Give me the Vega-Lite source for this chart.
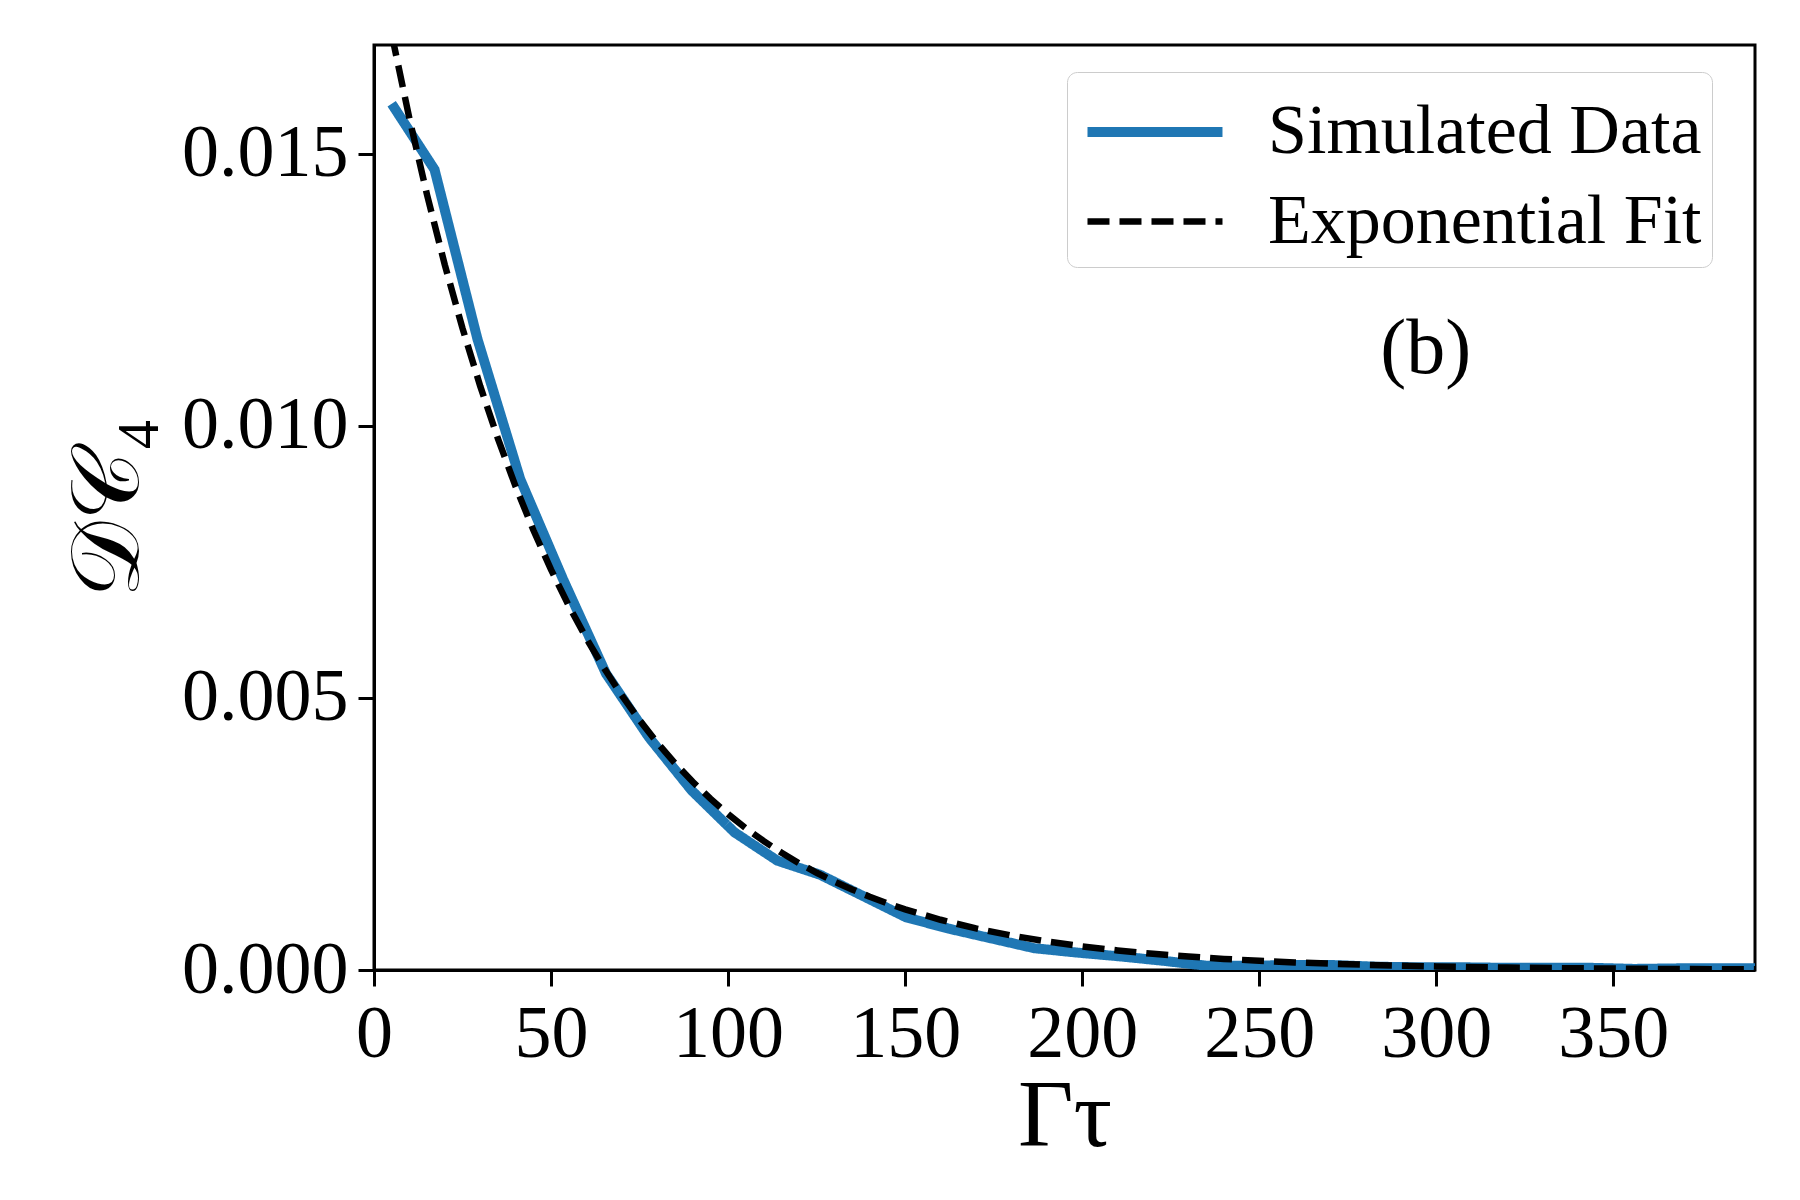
{
  "$schema": "https://vega.github.io/schema/vega-lite/v6.json",
  "description": "Decay of D_C4 against Gamma tau, simulated data with exponential fit",
  "width": 1381,
  "height": 925,
  "autosize": {"type": "none"},
  "padding": {"left": 374, "top": 45, "right": 45, "bottom": 230},
  "background": "white",
  "config": {
    "view": {"stroke": "black", "strokeWidth": 3},
    "font": "Liberation Serif",
    "axis": {
      "labelFont": "Liberation Serif",
      "titleFont": "Liberation Serif",
      "labelFontSize": 74,
      "labelColor": "black",
      "titleColor": "black",
      "domainColor": "black",
      "domainWidth": 3,
      "tickColor": "black",
      "tickWidth": 3,
      "tickSize": 16,
      "grid": false
    }
  },
  "datasets": {
    "sim": [
      {"t": 5.0, "d": 0.01592, "series": "Simulated Data"},
      {"t": 17.1, "d": 0.01471, "series": "Simulated Data"},
      {"t": 29.2, "d": 0.0116, "series": "Simulated Data"},
      {"t": 41.3, "d": 0.00902, "series": "Simulated Data"},
      {"t": 53.4, "d": 0.00718, "series": "Simulated Data"},
      {"t": 65.5, "d": 0.00545, "series": "Simulated Data"},
      {"t": 77.6, "d": 0.00428, "series": "Simulated Data"},
      {"t": 89.7, "d": 0.0033, "series": "Simulated Data"},
      {"t": 101.8, "d": 0.00253, "series": "Simulated Data"},
      {"t": 113.9, "d": 0.00201, "series": "Simulated Data"},
      {"t": 126.0, "d": 0.00175, "series": "Simulated Data"},
      {"t": 138.1, "d": 0.00136, "series": "Simulated Data"},
      {"t": 150.2, "d": 0.00097, "series": "Simulated Data"},
      {"t": 162.3, "d": 0.00076, "series": "Simulated Data"},
      {"t": 174.4, "d": 0.00058, "series": "Simulated Data"},
      {"t": 186.5, "d": 0.0004, "series": "Simulated Data"},
      {"t": 198.6, "d": 0.00032, "series": "Simulated Data"},
      {"t": 210.7, "d": 0.00025, "series": "Simulated Data"},
      {"t": 222.8, "d": 0.00017, "series": "Simulated Data"},
      {"t": 234.9, "d": 0.00008, "series": "Simulated Data"},
      {"t": 247.0, "d": 0.00008, "series": "Simulated Data"},
      {"t": 259.1, "d": 0.00009, "series": "Simulated Data"},
      {"t": 271.2, "d": 0.00009, "series": "Simulated Data"},
      {"t": 283.3, "d": 0.00006, "series": "Simulated Data"},
      {"t": 295.4, "d": 0.00005, "series": "Simulated Data"},
      {"t": 307.5, "d": 0.00005, "series": "Simulated Data"},
      {"t": 319.6, "d": 0.00004, "series": "Simulated Data"},
      {"t": 331.7, "d": 0.00004, "series": "Simulated Data"},
      {"t": 343.8, "d": 0.00004, "series": "Simulated Data"},
      {"t": 355.9, "d": 0.00002, "series": "Simulated Data"},
      {"t": 368.0, "d": 0.00003, "series": "Simulated Data"},
      {"t": 380.1, "d": 0.00003, "series": "Simulated Data"},
      {"t": 392.2, "d": 0.00003, "series": "Simulated Data"}
    ],
    "fit": [
      {"t": 5, "d": 0.017198, "series": "Exponential Fit"},
      {"t": 10, "d": 0.01565, "series": "Exponential Fit"},
      {"t": 15, "d": 0.014241, "series": "Exponential Fit"},
      {"t": 20, "d": 0.012959, "series": "Exponential Fit"},
      {"t": 25, "d": 0.011792, "series": "Exponential Fit"},
      {"t": 30, "d": 0.01073, "series": "Exponential Fit"},
      {"t": 35, "d": 0.009764, "series": "Exponential Fit"},
      {"t": 40, "d": 0.008885, "series": "Exponential Fit"},
      {"t": 45, "d": 0.008085, "series": "Exponential Fit"},
      {"t": 50, "d": 0.007357, "series": "Exponential Fit"},
      {"t": 55, "d": 0.006695, "series": "Exponential Fit"},
      {"t": 60, "d": 0.006092, "series": "Exponential Fit"},
      {"t": 65, "d": 0.005544, "series": "Exponential Fit"},
      {"t": 70, "d": 0.005045, "series": "Exponential Fit"},
      {"t": 75, "d": 0.004591, "series": "Exponential Fit"},
      {"t": 80, "d": 0.004177, "series": "Exponential Fit"},
      {"t": 85, "d": 0.003801, "series": "Exponential Fit"},
      {"t": 90, "d": 0.003459, "series": "Exponential Fit"},
      {"t": 95, "d": 0.003148, "series": "Exponential Fit"},
      {"t": 100, "d": 0.002864, "series": "Exponential Fit"},
      {"t": 105, "d": 0.002606, "series": "Exponential Fit"},
      {"t": 110, "d": 0.002372, "series": "Exponential Fit"},
      {"t": 115, "d": 0.002158, "series": "Exponential Fit"},
      {"t": 120, "d": 0.001964, "series": "Exponential Fit"},
      {"t": 125, "d": 0.001787, "series": "Exponential Fit"},
      {"t": 130, "d": 0.001626, "series": "Exponential Fit"},
      {"t": 135, "d": 0.00148, "series": "Exponential Fit"},
      {"t": 140, "d": 0.001347, "series": "Exponential Fit"},
      {"t": 145, "d": 0.001225, "series": "Exponential Fit"},
      {"t": 150, "d": 0.001115, "series": "Exponential Fit"},
      {"t": 160, "d": 0.000923, "series": "Exponential Fit"},
      {"t": 170, "d": 0.000764, "series": "Exponential Fit"},
      {"t": 180, "d": 0.000633, "series": "Exponential Fit"},
      {"t": 190, "d": 0.000524, "series": "Exponential Fit"},
      {"t": 200, "d": 0.000434, "series": "Exponential Fit"},
      {"t": 210, "d": 0.000359, "series": "Exponential Fit"},
      {"t": 220, "d": 0.000297, "series": "Exponential Fit"},
      {"t": 230, "d": 0.000246, "series": "Exponential Fit"},
      {"t": 240, "d": 0.000204, "series": "Exponential Fit"},
      {"t": 250, "d": 0.000169, "series": "Exponential Fit"},
      {"t": 260, "d": 0.00014, "series": "Exponential Fit"},
      {"t": 270, "d": 0.000116, "series": "Exponential Fit"},
      {"t": 280, "d": 0.000096, "series": "Exponential Fit"},
      {"t": 290, "d": 0.000079, "series": "Exponential Fit"},
      {"t": 300, "d": 0.000066, "series": "Exponential Fit"},
      {"t": 320, "d": 0.000045, "series": "Exponential Fit"},
      {"t": 340, "d": 0.000031, "series": "Exponential Fit"},
      {"t": 360, "d": 0.000021, "series": "Exponential Fit"},
      {"t": 390, "d": 0.000012, "series": "Exponential Fit"}
    ],
    "panel": [
      {"t": 297, "d": 0.0114, "label": "(b)"}
    ]
  },
  "encoding": {
    "x": {
      "field": "t",
      "type": "quantitative",
      "scale": {"domain": [0, 390], "nice": false, "zero": false},
      "axis": {
        "title": "Γτ",
        "titleFontSize": 96,
        "titleFontWeight": "normal",
        "titlePadding": -2,
        "values": [0, 50, 100, 150, 200, 250, 300, 350],
        "labelPadding": 12,
        "labelFlush": false
      }
    },
    "y": {
      "field": "d",
      "type": "quantitative",
      "scale": {"domain": [0, 0.017], "nice": false},
      "axis": {
        "title": "𝒟𝒞₄",
        "titleFontSize": 96,
        "titleFontWeight": "normal",
        "titlePadding": 24,
        "values": [0, 0.005, 0.01, 0.015],
        "format": ".3f",
        "labelPadding": 10,
        "labelFlush": false
      }
    }
  },
  "layer": [
    {
      "data": {"name": "sim"},
      "mark": {"type": "line", "clip": true, "strokeCap": "butt", "strokeJoin": "miter"},
      "encoding": {
        "color": {
          "field": "series",
          "type": "nominal",
          "scale": {"domain": ["Simulated Data", "Exponential Fit"], "range": ["#1f77b4", "black"]},
          "legend": {
            "title": null,
            "orient": "none",
            "legendX": 693,
            "legendY": 27,
            "symbolType": "M-0.878,0L2.122,0",
            "symbolSize": 8100,
            "symbolFillColor": "transparent",
            "labelFont": "Liberation Serif",
            "labelFontSize": 70,
            "labelColor": "black",
            "labelLimit": 800,
            "labelOffset": 91,
            "padding": 10,
            "rowPadding": 6,
            "strokeColor": "#cccccc",
            "fillColor": "white",
            "cornerRadius": 10
          }
        },
        "strokeDash": {
          "field": "series",
          "type": "nominal",
          "scale": {"domain": ["Simulated Data", "Exponential Fit"], "range": [[1, 0], [22, 10]]},
          "legend": null
        },
        "strokeWidth": {
          "field": "series",
          "type": "nominal",
          "scale": {"domain": ["Simulated Data", "Exponential Fit"], "range": [10, 6.5]},
          "legend": null
        }
      }
    },
    {
      "data": {"name": "fit"},
      "mark": {"type": "line", "clip": true, "strokeCap": "butt"},
      "encoding": {
        "color": {"field": "series", "type": "nominal"},
        "strokeDash": {"field": "series", "type": "nominal"},
        "strokeWidth": {"field": "series", "type": "nominal"}
      }
    },
    {
      "data": {"name": "panel"},
      "mark": {"type": "text", "font": "Liberation Serif", "fontSize": 78, "color": "black", "align": "center", "baseline": "middle"},
      "encoding": {
        "text": {"field": "label"}
      }
    }
  ]
}
